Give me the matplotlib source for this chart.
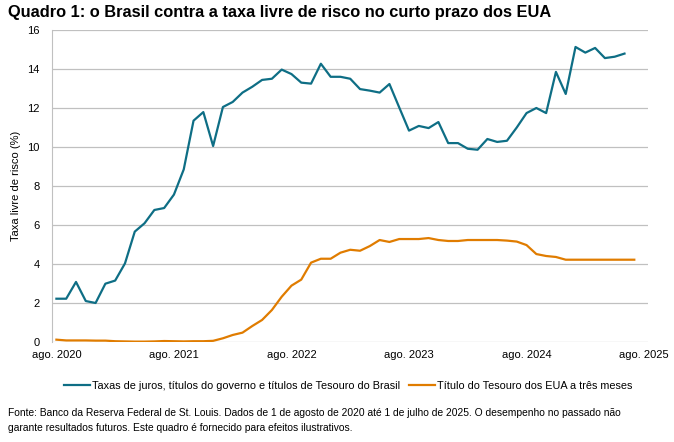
import numpy as np
import matplotlib
matplotlib.use("Agg")
from matplotlib import pyplot as plt

#_____________________________DATA_______________________________________#
# monthly values, ago. 2020 = month 0
brasil = [2.22, 2.22, 3.08, 2.10, 2.00, 2.99, 3.15, 4.03, 5.66, 6.09,
          6.77, 6.87, 7.56, 8.85, 11.35, 11.79, 10.05, 12.05, 12.31, 12.79,
          13.09, 13.44, 13.50, 13.97, 13.74, 13.30, 13.25, 14.27, 13.60, 13.60,
          13.50, 12.97, 12.89, 12.79, 13.23, 12.03, 10.84, 11.08, 10.97, 11.28,
          10.20, 10.20, 9.91, 9.86, 10.41, 10.26, 10.32, 11.00, 11.74, 12.00,
          11.74, 13.85, 12.72, 15.13, 14.84, 15.08, 14.56, 14.63, 14.79]
eua = [0.12, 0.08, 0.08, 0.08, 0.07, 0.07, 0.04, 0.03, 0.02, 0.02,
       0.03, 0.05, 0.04, 0.03, 0.04, 0.04, 0.06, 0.19, 0.36, 0.48,
       0.82, 1.13, 1.64, 2.32, 2.89, 3.20, 4.07, 4.27, 4.27, 4.58,
       4.73, 4.68, 4.92, 5.23, 5.13, 5.28, 5.28, 5.28, 5.33, 5.23,
       5.18, 5.18, 5.23, 5.23, 5.23, 5.23, 5.20, 5.15, 4.97, 4.51,
       4.41, 4.36, 4.22, 4.22, 4.22, 4.22, 4.22, 4.22, 4.22, 4.22]
tick_months = [0, 12, 24, 36, 48, 60]
tick_labels = ["ago. 2020", "ago. 2021", "ago. 2022", "ago. 2023", "ago. 2024", "ago. 2025"]
serie_nomes = ["Taxas de juros, títulos do governo e títulos de Tesouro do Brasil",
               "Título do Tesouro dos EUA a três meses"]

#_____________________________STYLE_______________________________________#
plt.rcParams['font.family'] = ['Liberation Sans', 'DejaVu Sans']
teal = "#0e6e85"
orange = "#e07c00"
grid_c = "#c0c0c0"

fig = plt.figure(figsize=(6.74, 4.42), dpi=100)
ax = fig.add_axes([52/674, 100/442, 596/674, 312/442])

ax.plot(np.arange(len(brasil)), brasil, color=teal, lw=1.6, label=serie_nomes[0])
ax.plot(np.arange(len(eua)), eua, color=orange, lw=1.6, label=serie_nomes[1])

ax.set_ylim(0, 16)
ax.set_yticks(range(0, 17, 2))
ax.set_xlim(-0.45, 60.4)
ax.set_xticks(tick_months)
ax.set_xticklabels(tick_labels)
ax.grid(axis='y', color=grid_c, lw=0.9)
ax.set_axisbelow(True)
for s in ['top', 'right', 'bottom']:
    ax.spines[s].set_visible(False)
ax.spines['left'].set_color(grid_c)
ax.tick_params(axis='both', length=0, labelsize=8, colors='black')
ax.tick_params(axis='y', pad=9)
ax.tick_params(axis='x', pad=6)
ax.set_ylabel("Taxa livre de risco (%)", fontsize=8, labelpad=4)

fig.text(8/674, 1 - 13/442, "Quadro 1: o Brasil contra a taxa livre de risco no curto prazo dos EUA",
         fontsize=11.8, fontweight='bold', va='center', ha='left')

fig.legend(loc='center', bbox_to_anchor=(348/674, 1 - 386/442), ncol=2, frameon=False,
           fontsize=7.8, handlelength=2.4, handletextpad=0.2, columnspacing=0.8)

fig.text(8/674, 1 - 413/442,
         "Fonte: Banco da Reserva Federal de St. Louis. Dados de 1 de agosto de 2020 até 1 de julho de 2025. O desempenho no passado não",
         fontsize=7.4, va='center', ha='left')
fig.text(8/674, 1 - 428/442,
         "garante resultados futuros. Este quadro é fornecido para efeitos ilustrativos.",
         fontsize=7.4, va='center', ha='left')

fig.savefig("out.png", dpi=100)
